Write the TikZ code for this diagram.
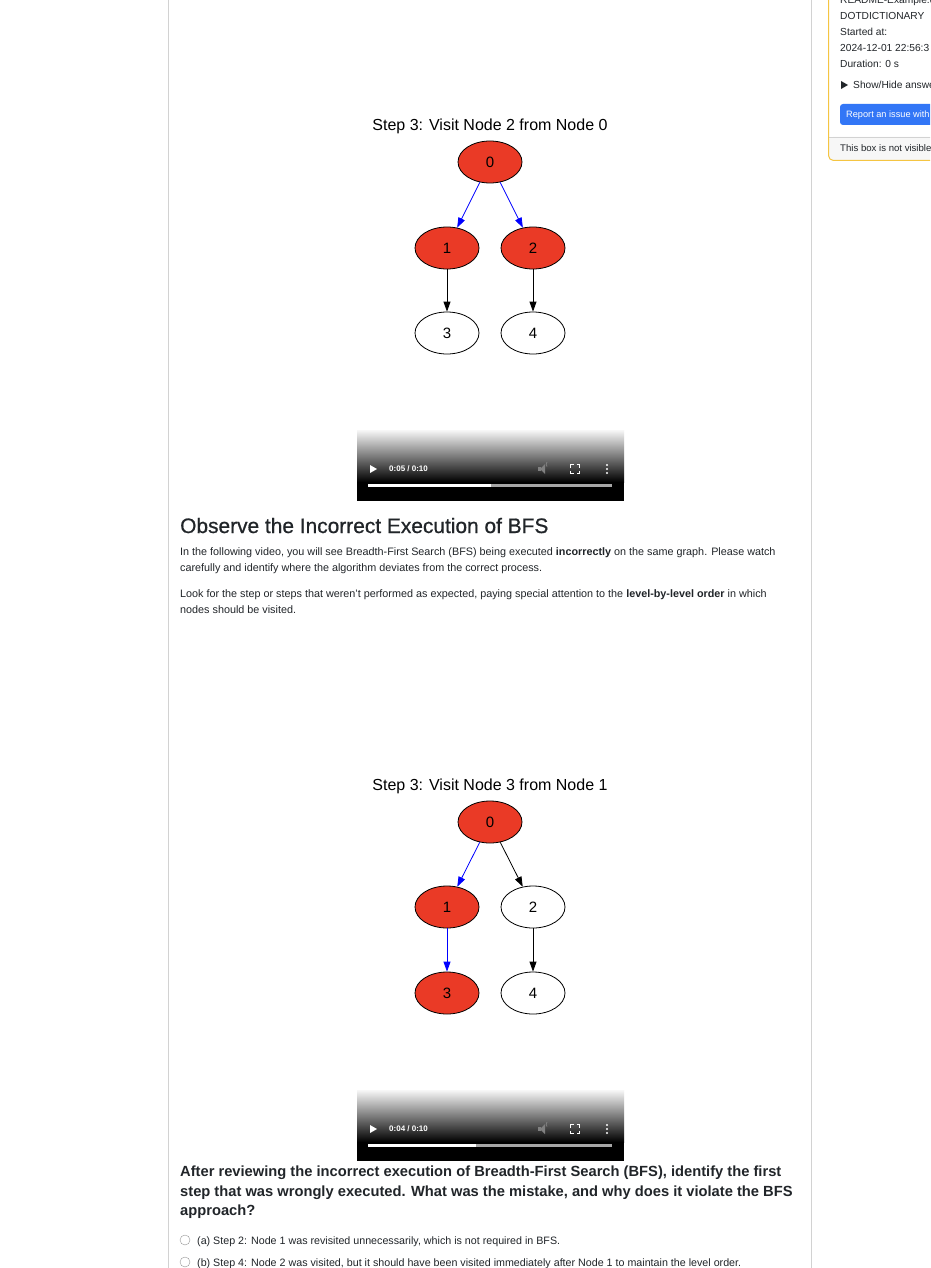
\documentclass[tikz,border=0pt]{standalone}
\usepackage{fontspec}
\setmainfont{Liberation Sans}
\newfontfamily\headfont{Liberation Sans}[FakeBold=0.7]
\usetikzlibrary{arrows.meta,shapes.geometric}
\definecolor{bfsred}{RGB}{234,58,38}
\definecolor{pagetext}{RGB}{33,37,41}
\definecolor{rulegray}{RGB}{210,210,210}
\definecolor{boxyellow}{RGB}{245,197,66}
\definecolor{buttonblue}{RGB}{50,118,246}
\definecolor{footgray}{RGB}{247,247,247}
\definecolor{radiogray}{RGB}{150,150,150}
\begin{document}
\begin{tikzpicture}[x=1pt,y=-1pt,
	visited/.style={ellipse,draw=black,line width=0.8pt,fill=bfsred,minimum width=64pt,minimum height=42pt,inner sep=0pt,font=\fontsize{15}{15}\selectfont},
	unvisited/.style={visited,fill=white},
	treeedge/.style={-{Triangle[length=10pt,width=7pt]},blue,line width=0.8pt},
	plainedge/.style={-{Triangle[length=10pt,width=7pt]},black,line width=0.8pt},
	steptitle/.style={font=\fontsize{16}{16}\selectfont},
	bodytext/.style={anchor=base west,inner sep=0pt,text=pagetext,font=\fontsize{10.8}{12}\selectfont},
	optiontext/.style={bodytext,font=\fontsize{10.7}{12}\selectfont},
	questiontext/.style={anchor=base west,inner sep=0pt,text=pagetext,font=\fontsize{14.7}{18}\selectfont\bfseries},
	sidetext/.style={anchor=base west,inner sep=0pt,text=pagetext,font=\fontsize{10.2}{12}\selectfont},
	timetext/.style={anchor=west,inner sep=0pt,text=white,font=\fontsize{8}{8}\selectfont\bfseries}]
	
\def\PLAYERTOP{gray!6}
\def\BAR{gray!70}
	\useasboundingbox (0,0) rectangle (930,1268);
	\clip (0,0) rectangle (930,1268);
	\fill[white] (0,0) rectangle (930,1268);
	\draw[rulegray,line width=1pt] (168.5,0) -- (168.5,1268);
	\draw[rulegray,line width=1pt] (811.5,0) -- (811.5,1268);

	\fill[white] (828,-10) rectangle (945,161);
	\fill[footgray,rounded corners=5pt] (828,137) rectangle (945,161);
	\draw[rulegray] (828,137) -- (945,137);
	\draw[boxyellow,line width=1pt,rounded corners=5pt] (828.5,-10) rectangle (945,160.5);
	\node[sidetext] (readme) at (840,4) {README-Example.dot};
	\node[sidetext] (dotdict) at (840,20) {DOTDICTIONARY};
	\node[sidetext] (started) at (840,36) {Started at:};
	\node[sidetext] (stamp) at (840,52) {2024-12-01 22:56:3};
	\node[sidetext] (duration) at (840,68) {Duration: 0 s};
	\fill[pagetext] (841,81) -- (848,85) -- (841,89) -- cycle;
	\node[sidetext] (showhide) at (853,89) {Show/Hide answers};
	\fill[buttonblue,rounded corners=3pt] (840,104) rectangle (945,125);
	\node[sidetext,text=white,font=\fontsize{9.2}{11}\selectfont] (report) at (846,118) {Report an issue with};
	\node[sidetext,font=\fontsize{9.6}{11}\selectfont] (notvisible) at (840,152) {This box is not visible};

	\node[steptitle] (titleA) at (490,126) {Step 3: Visit Node 2 from Node 0};
	\node[visited] (a0) at (490,162) {0};
	\node[visited] (a1) at (447,248) {1};
	\node[visited] (a2) at (533,248) {2};
	\node[unvisited] (a3) at (447,333) {3};
	\node[unvisited] (a4) at (533,333) {4};
	\draw[treeedge] (a0) -- (a1);
	\draw[treeedge] (a0) -- (a2);
	\draw[plainedge] (a1) -- (a3);
	\draw[plainedge] (a2) -- (a4);

	\shade[top color=\PLAYERTOP,bottom color=black] (357,430) rectangle (624,482);
	\fill[black] (357,482) rectangle (624,501);
	\fill[white] (370,465) -- (377,469) -- (370,473) -- cycle;
	\node[timetext] (timeA) at (389,469) {0:05 / 0:10};
	\fill[gray] (538,467) rectangle (541,471);
	\fill[gray] (540,469) -- (545,464) -- (545,474) -- cycle;
	\draw[gray,line width=0.8pt] (547,466.5) arc (-40:40:-3.5);
	\draw[white,line width=1.2pt] (570.5,467.5) -- (570.5,464.5) -- (573.5,464.5) (576.5,464.5) -- (579.5,464.5) -- (579.5,467.5) (579.5,470.5) -- (579.5,473.5) -- (576.5,473.5) (573.5,473.5) -- (570.5,473.5) -- (570.5,470.5);
	\fill[white] (607,465) circle (1.2) (607,469) circle (1.2) (607,473) circle (1.2);
	\fill[\BAR] (368,484) rectangle (612,487);
	\fill[white] (368,484) rectangle (491,487);

	\node[anchor=base west,inner sep=0pt,text=pagetext,font=\fontsize{20.9}{24}\headfont] (headA) at (180,533) {Observe the Incorrect Execution of BFS};
	\node[bodytext] (paraA) at (180,555) {In the following video, you will see Breadth-First Search (BFS) being executed \textbf{incorrectly} on the same graph. Please watch};
	\node[bodytext] (paraB) at (180,571) {carefully and identify where the algorithm deviates from the correct process.};
	\node[bodytext] (paraC) at (180,597) {Look for the step or steps that weren't performed as expected, paying special attention to the \textbf{level-by-level order} in which};
	\node[bodytext] (paraD) at (180,613) {nodes should be visited.};

	\node[steptitle] (titleB) at (490,786) {Step 3: Visit Node 3 from Node 1};
	\node[visited] (b0) at (490,822) {0};
	\node[visited] (b1) at (447,907) {1};
	\node[unvisited] (b2) at (533,907) {2};
	\node[visited] (b3) at (447,993) {3};
	\node[unvisited] (b4) at (533,993) {4};
	\draw[treeedge] (b0) -- (b1);
	\draw[plainedge] (b0) -- (b2);
	\draw[treeedge] (b1) -- (b3);
	\draw[plainedge] (b2) -- (b4);

	\shade[top color=\PLAYERTOP,bottom color=black] (357,1090) rectangle (624,1142);
	\fill[black] (357,1142) rectangle (624,1161);
	\fill[white] (370,1125) -- (377,1129) -- (370,1133) -- cycle;
	\node[timetext] (timeB) at (389,1129) {0:04 / 0:10};
	\fill[gray] (538,1127) rectangle (541,1131);
	\fill[gray] (540,1129) -- (545,1124) -- (545,1134) -- cycle;
	\draw[gray,line width=0.8pt] (547,1126.5) arc (-40:40:-3.5);
	\draw[white,line width=1.2pt] (570.5,1127.5) -- (570.5,1124.5) -- (573.5,1124.5) (576.5,1124.5) -- (579.5,1124.5) -- (579.5,1127.5) (579.5,1130.5) -- (579.5,1133.5) -- (576.5,1133.5) (573.5,1133.5) -- (570.5,1133.5) -- (570.5,1130.5);
	\fill[white] (607,1125) circle (1.2) (607,1129) circle (1.2) (607,1133) circle (1.2);
	\fill[\BAR] (368,1144) rectangle (612,1147);
	\fill[white] (368,1144) rectangle (476,1147);

	\node[questiontext] (quA) at (180,1176) {After reviewing the incorrect execution of Breadth-First Search (BFS), identify the first};
	\node[questiontext] (quB) at (180,1196) {step that was wrongly executed. What was the mistake, and why does it violate the BFS};
	\node[questiontext] (quC) at (180,1215) {approach?};
	\draw[radiogray,fill=white] (185,1240) circle (5);
	\node[optiontext] (optA) at (197,1244) {(a) Step 2: Node 1 was revisited unnecessarily, which is not required in BFS.};
	\draw[radiogray,fill=white] (185,1262) circle (5);
	\node[optiontext] (optB) at (197,1266) {(b) Step 4: Node 2 was visited, but it should have been visited immediately after Node 1 to maintain the level order.};

\end{tikzpicture}
\end{document}
